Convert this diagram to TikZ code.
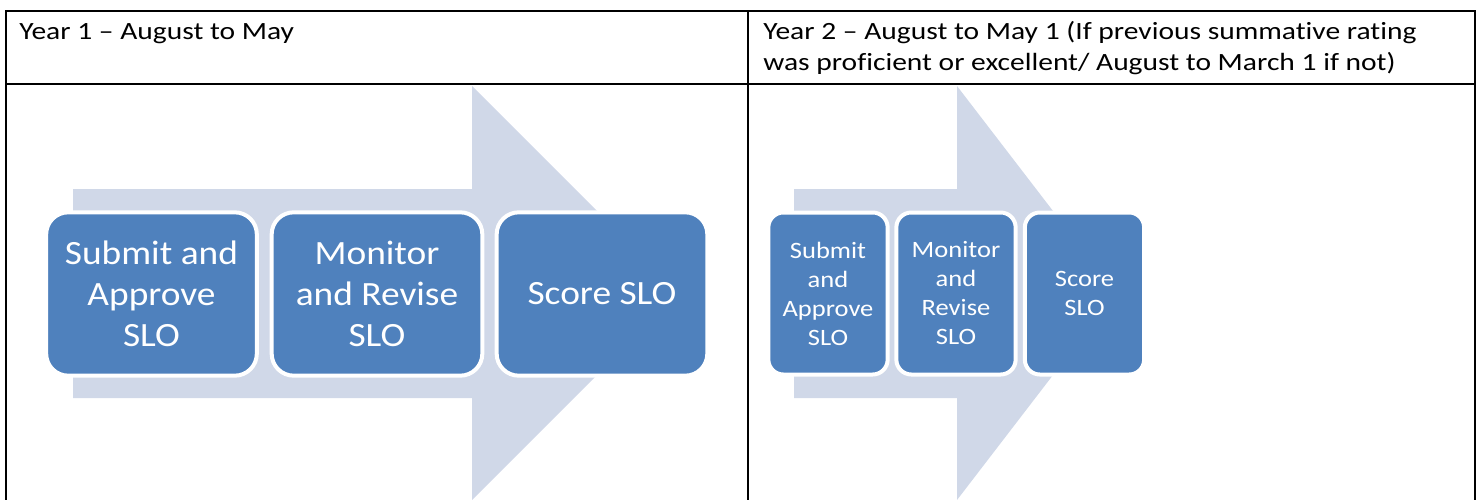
\documentclass[tikz,border=0pt]{standalone}
\usepackage{fontspec}
\setmainfont{Carlito}
\newfontfamily\headfont[FakeStretch=1.19,Ligatures=CommonOff]{Carlito}
\newfontfamily\boxfont[FakeStretch=1.10]{Carlito}
\newfontfamily\smallboxfont[FakeStretch=1.13]{Carlito}
\usepackage{xcolor}
\definecolor{sloblue}{HTML}{4F81BD}
\definecolor{slolight}{HTML}{D0D8E8}

\begin{document}
\begin{tikzpicture}[x=0.75pt,y=0.75pt,yscale=-1,xscale=1,
  tableline/.style={line width=1.5pt},
  arrowbg/.style={fill=slolight,draw=none},
  slobox/.style={rounded corners=16.5pt,fill=sloblue,draw=white,line width=3pt,
    minimum width=158pt,minimum height=122.5pt,inner sep=0pt,align=center,
    text=white,font=\boxfont\fontsize{25.5}{30.75}\selectfont},
  smallbox/.style={slobox,rounded corners=11.25pt,minimum width=89.5pt,minimum height=121.5pt,
    font=\smallboxfont\fontsize{17.6}{21.75}\selectfont},
  headtext/.style={anchor=base west,inner sep=0pt,font=\headfont\fontsize{18.6}{23}\selectfont}]
\useasboundingbox (0,0) rectangle (1479,500);

%Background arrows
\fill [arrowbg] (73,189) -- (472,189) -- (472,86) -- (679,293) -- (472,500) -- (472,398) -- (73,398) -- cycle ;
\fill [arrowbg] (794,189) -- (957,189) -- (957,86) -- (1116,293) -- (957,500) -- (957,398) -- (794,398) -- cycle ;

%Table lines
\draw [tableline] (5.5,500) -- (5.5,11) -- (1475,11) -- (1475,500) ;
\draw [tableline] (5.5,84) -- (1475,84) ;
\draw [tableline] (747.5,11) -- (747.5,500) ;

% Header text
\node [headtext] (yearA) at (19,39) {Year 1 – August to May};
\node [headtext] (yearB) at (763,39) {Year 2 – August to May 1 (If previous summative rating};
\node [headtext] (yearBb) at (763,70) {was proficient or excellent/ August to March 1 if not)};

% Year 1 steps
\node [slobox] (submitA) at (151.5,294) {Submit and\\Approve\\SLO};
\node [slobox] (monitorA) at (377,294) {Monitor\\and Revise\\SLO};
\node [slobox] (scoreA) at (602,294) {Score SLO};

% Year 2 steps
\node [smallbox] (submitB) at (828,293.5) {Submit\\and\\Approve\\SLO};
\node [smallbox] (monitorB) at (956,293.5) {Monitor\\and\\Revise\\SLO};
\node [smallbox] (scoreB) at (1084.5,293.5) {Score\\SLO};

\end{tikzpicture}
\end{document}
